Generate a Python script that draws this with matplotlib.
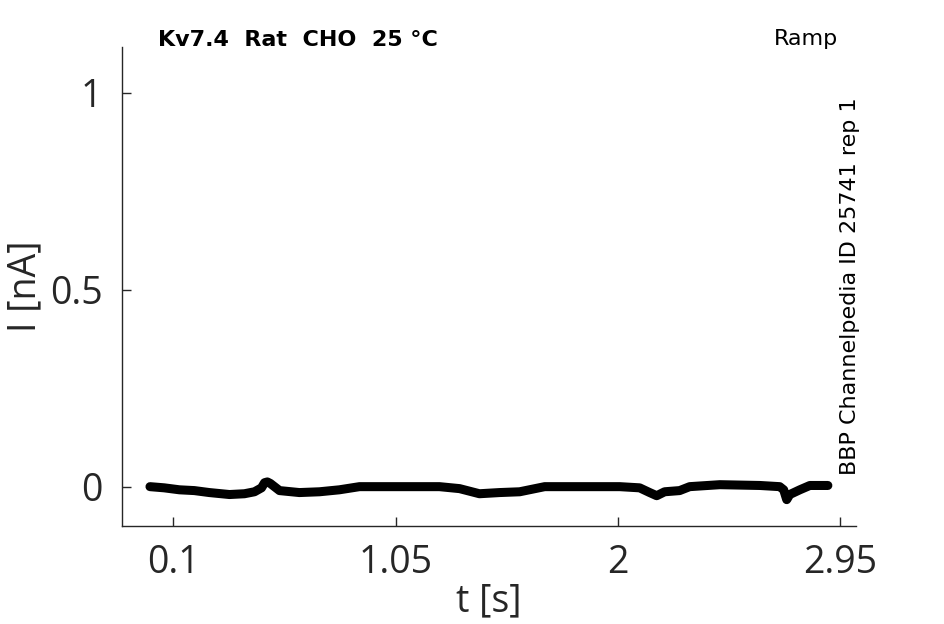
import matplotlib
matplotlib.use("Agg")
import matplotlib.pyplot as plt

# trace (baseline of the noisy recording)
t_s = [0.0, 0.061, 0.126, 0.190, 0.254, 0.340, 0.404, 0.447, 0.477, 0.490, 0.502,
       0.515, 0.528, 0.554, 0.639, 0.725, 0.810, 0.896, 1.067, 1.238, 1.324, 1.409,
       1.495, 1.581, 1.688, 1.837, 2.009, 2.094, 2.137, 2.167, 2.201, 2.265,
       2.308, 2.437, 2.608, 2.693, 2.710, 2.723, 2.736, 2.779, 2.822, 2.899]
i_nA = [0.0, -0.003, -0.008, -0.010, -0.015, -0.020, -0.018, -0.013, -0.003, 0.010, 0.012,
        0.008, 0.002, -0.010, -0.015, -0.013, -0.008, 0.0, 0.0, 0.0, -0.005, -0.018,
        -0.015, -0.013, 0.0, 0.0, 0.0, -0.003, -0.015, -0.023, -0.013, -0.010,
        0.0, 0.005, 0.003, 0.0, -0.008, -0.033, -0.020, -0.008, 0.003, 0.003]

x_ticks = [0.1, 1.05, 2, 2.95]
x_tick_labels = ["0.1", "1.05", "2", "2.95"]
y_ticks = [0, 0.5, 1]
y_tick_labels = ["0", "0.5", "1"]

title = "Kv7.4  Rat  CHO  25 °C"
protocol = "Ramp"
source = "BBP Channelpedia ID 25741 rep 1"

grey = "#262626"

fig = plt.figure(figsize=(9.45, 6.24), dpi=100)
ax = fig.add_axes([0.129, 0.157, 0.777, 0.768])

ax.plot(t_s, i_nA, color="black", lw=6.5, solid_capstyle="round", solid_joinstyle="round")

ax.set_xlim(-0.12, 3.02)
ax.set_ylim(-0.1, 1.117)
ax.set_xticks(x_ticks)
ax.set_xticklabels(x_tick_labels)
ax.set_yticks(y_ticks)
ax.set_yticklabels(y_tick_labels)

for side in ["top", "right"]:
    ax.spines[side].set_visible(False)
for side in ["left", "bottom"]:
    ax.spines[side].set_color(grey)
    ax.spines[side].set_linewidth(1.0)

ax.tick_params(direction="in", length=6.5, width=1.0, colors=grey, labelsize=27)
ax.tick_params(axis="x", pad=13)
ax.tick_params(axis="y", pad=14)
for lab in ax.get_xticklabels() + ax.get_yticklabels():
    lab.set_family("Open Sans")

ax.set_xlabel("t [s]", fontsize=27, color=grey, family="Open Sans", labelpad=0)
ax.set_ylabel("I [nA]", fontsize=27, color=grey, family="Open Sans", labelpad=4)

fig.text(158 / 945, 1 - 40 / 624, title, fontsize=16, fontweight="bold",
         ha="left", va="center", family="DejaVu Sans")
fig.text(838 / 945, 1 - 39 / 624, protocol, fontsize=16, ha="right", va="center",
         family="DejaVu Sans")
fig.text(850 / 945, 1 - 286 / 624, source, fontsize=16, rotation=90,
         ha="center", va="center", family="DejaVu Sans")

fig.savefig("out.png", dpi=100)
